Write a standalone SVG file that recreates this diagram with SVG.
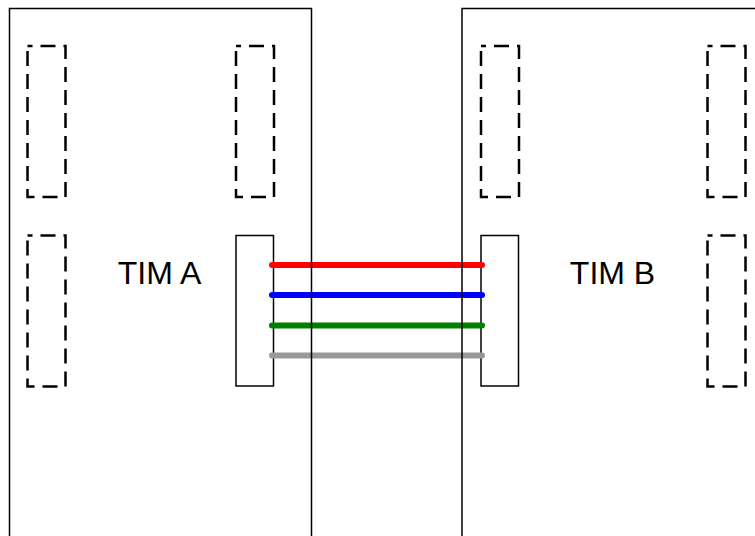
<svg xmlns="http://www.w3.org/2000/svg" width="755" height="536" viewBox="0 0 755 536">
  <style>
    .board { fill: none; stroke: #000; stroke-width: 1.5; }
    .slot { fill: none; stroke: #000; stroke-width: 2.5; stroke-dasharray: 15 8; stroke-dashoffset: 10; }
    .port { fill: #fff; stroke: #000; stroke-width: 1.5; }
    .wire { stroke-width: 6; stroke-linecap: round; fill: none; }
    .label { font-family: "Liberation Sans", Arial, sans-serif; font-size: 32px; fill: #000; text-anchor: middle; }
  </style>
  <rect x="0" y="0" width="755" height="536" fill="#fff"/>
  <g id="timA">
    <text class="label" x="159.5" y="283.5">TIM A</text>
    <rect class="slot" x="27.5" y="46" width="38" height="151"/>
    <rect class="slot" x="236" y="46" width="38" height="151"/>
    <rect class="slot" x="27.5" y="235.5" width="38" height="151"/>
    <rect id="portA" class="port" x="236" y="235.5" width="37.5" height="150.5"/>
  </g>
  <g id="timB">
    <text class="label" x="612.5" y="283.5">TIM B</text>
    <rect class="slot" x="481" y="46" width="38" height="151"/>
    <rect class="slot" x="707.5" y="46" width="38" height="151"/>
    <rect class="slot" x="707.5" y="235.5" width="38" height="151"/>
    <rect id="portB" class="port" x="481" y="235.5" width="37.5" height="150.5"/>
  </g>
  <g id="connectors">
    <line class="wire" x1="272" y1="265" x2="482" y2="265" stroke="#ff0000"/>
    <line class="wire" x1="272" y1="295" x2="482" y2="295" stroke="#0000ff"/>
    <line class="wire" x1="272" y1="325.5" x2="482" y2="325.5" stroke="#008000"/>
    <line class="wire" x1="272" y1="355.5" x2="482" y2="355.5" stroke="#999999"/>
  </g>
  <g id="boards">
    <rect id="boardA" class="board" x="9.5" y="8.5" width="302" height="560"/>
    <rect id="boardB" class="board" x="462" y="8.5" width="320" height="560"/>
  </g>
</svg>
